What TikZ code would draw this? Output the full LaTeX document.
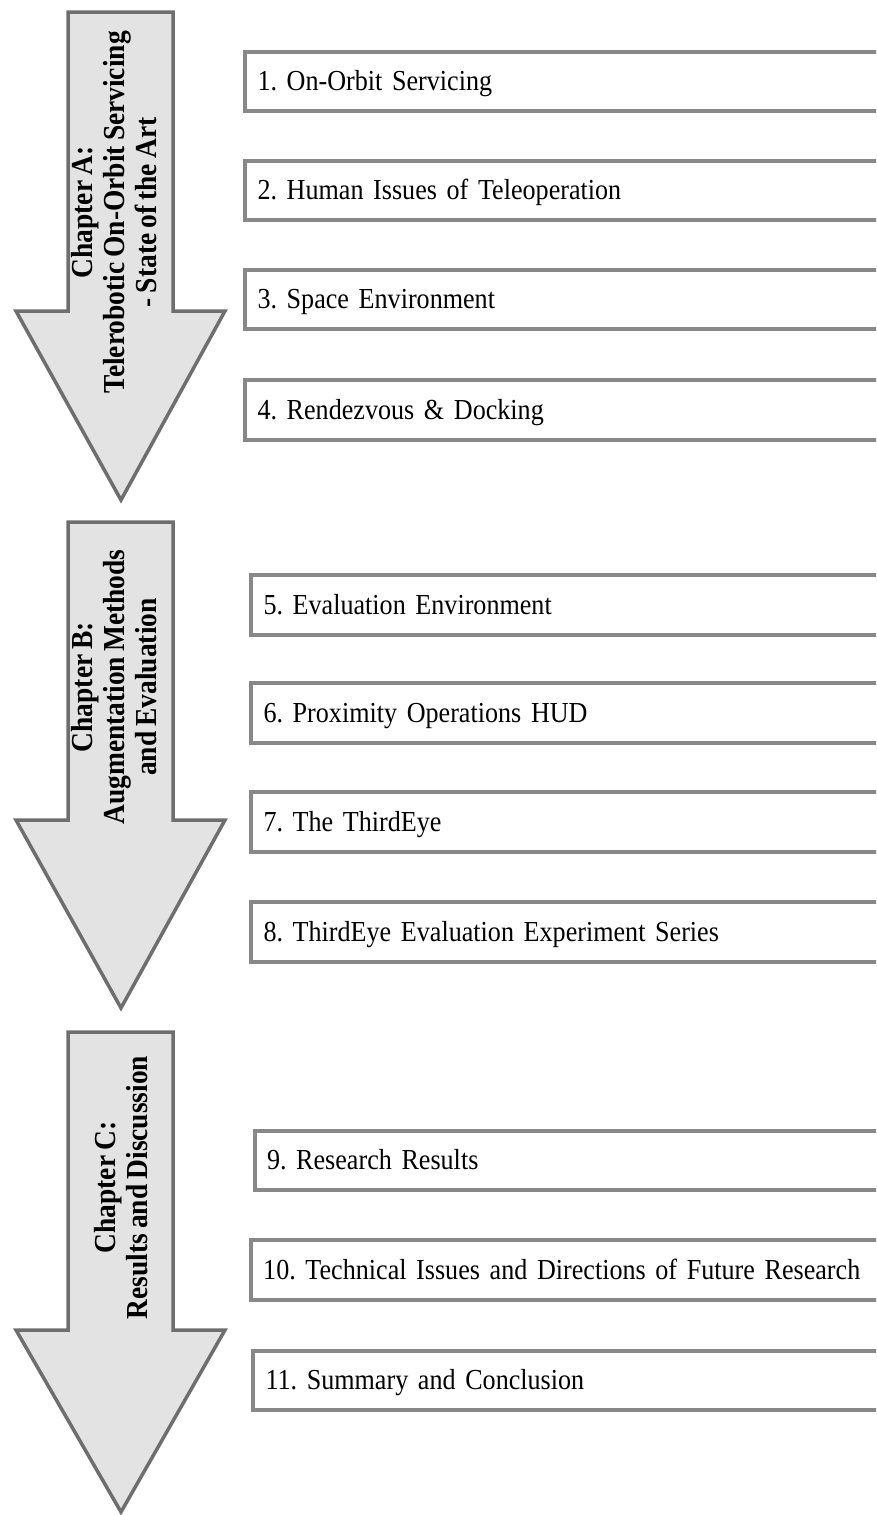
\documentclass[tikz,border=0pt]{standalone}
\usepackage{fontspec}
\setmainfont{Liberation Serif}[WordSpace=0.75,FakeStretch=0.9]
\begin{document}
\frenchspacing
\begin{tikzpicture}[x=1pt,y=-1pt,
  arrowshape/.style={draw=arrowline,fill=arrowfill,line width=3.5pt,line join=miter},
  arrowtext/.style={rotate=90,align=center,inner sep=0pt,
    font=\fontsize{30.5}{32}\selectfont\bfseries},
  chapbox/.style={draw=boxline,fill=white,line width=4pt,anchor=north west,
    minimum height=59.5pt,text width=620pt,align=left,inner xsep=12.5pt,
    text height=19pt,text depth=0pt,
    font=\fontsize{29}{32}\selectfont}]
\definecolor{arrowline}{HTML}{6E6E6E}
\definecolor{arrowfill}{HTML}{E3E3E3}
\definecolor{boxline}{HTML}{888888}
\useasboundingbox (0,0) rectangle (876,1515);
\clip (0,0) rectangle (876,1515);

% chapter arrows
\draw[arrowshape] (68,12) -- (173,12) -- (173,311) -- (225,311) -- (121,500) -- (16,311) -- (68,311) -- cycle;
\draw[arrowshape] (68,522) -- (173,522) -- (173,820) -- (225,820) -- (121,1008) -- (16,820) -- (68,820) -- cycle;
\draw[arrowshape] (68,1032) -- (173,1032) -- (173,1330) -- (225,1330) -- (121,1512) -- (16,1330) -- (68,1330) -- cycle;

\node[arrowtext] (chA) at (114.5,212.5) {Chapter A:\\Telerobotic On-Orbit Servicing\\- State of the Art};
\node[arrowtext] (chB) at (114.5,687) {Chapter B:\\Augmentation Methods\\and Evaluation};
\node[arrowtext] (chC) at (121,1187.5) {Chapter C:\\Results and Discussion};

% chapter sections
\node[chapbox] (s1)  at (243,49.5)    {1. On-Orbit Servicing};
\node[chapbox] (s2)  at (243,158.5)   {2. Human Issues of Teleoperation};
\node[chapbox] (s3)  at (243,267.5)   {3. Space Environment};
\node[chapbox] (s4)  at (243,378)     {4. Rendezvous \& Docking};

\node[chapbox] (s5)  at (249,573)     {5. Evaluation Environment};
\node[chapbox] (s6)  at (249,681.3)   {6. Proximity Operations HUD};
\node[chapbox] (s7)  at (249,790.3)   {7. The ThirdEye};
\node[chapbox] (s8)  at (249,900.3)   {8. ThirdEye Evaluation Experiment Series};

\node[chapbox] (s9)  at (252.5,1128.7) {9. Research Results};
\node[chapbox] (s10) at (248.7,1238.3) {10. Technical Issues and Directions of Future Research};
\node[chapbox] (s11) at (251,1348.7)   {11. Summary and Conclusion};
\end{tikzpicture}
\end{document}
